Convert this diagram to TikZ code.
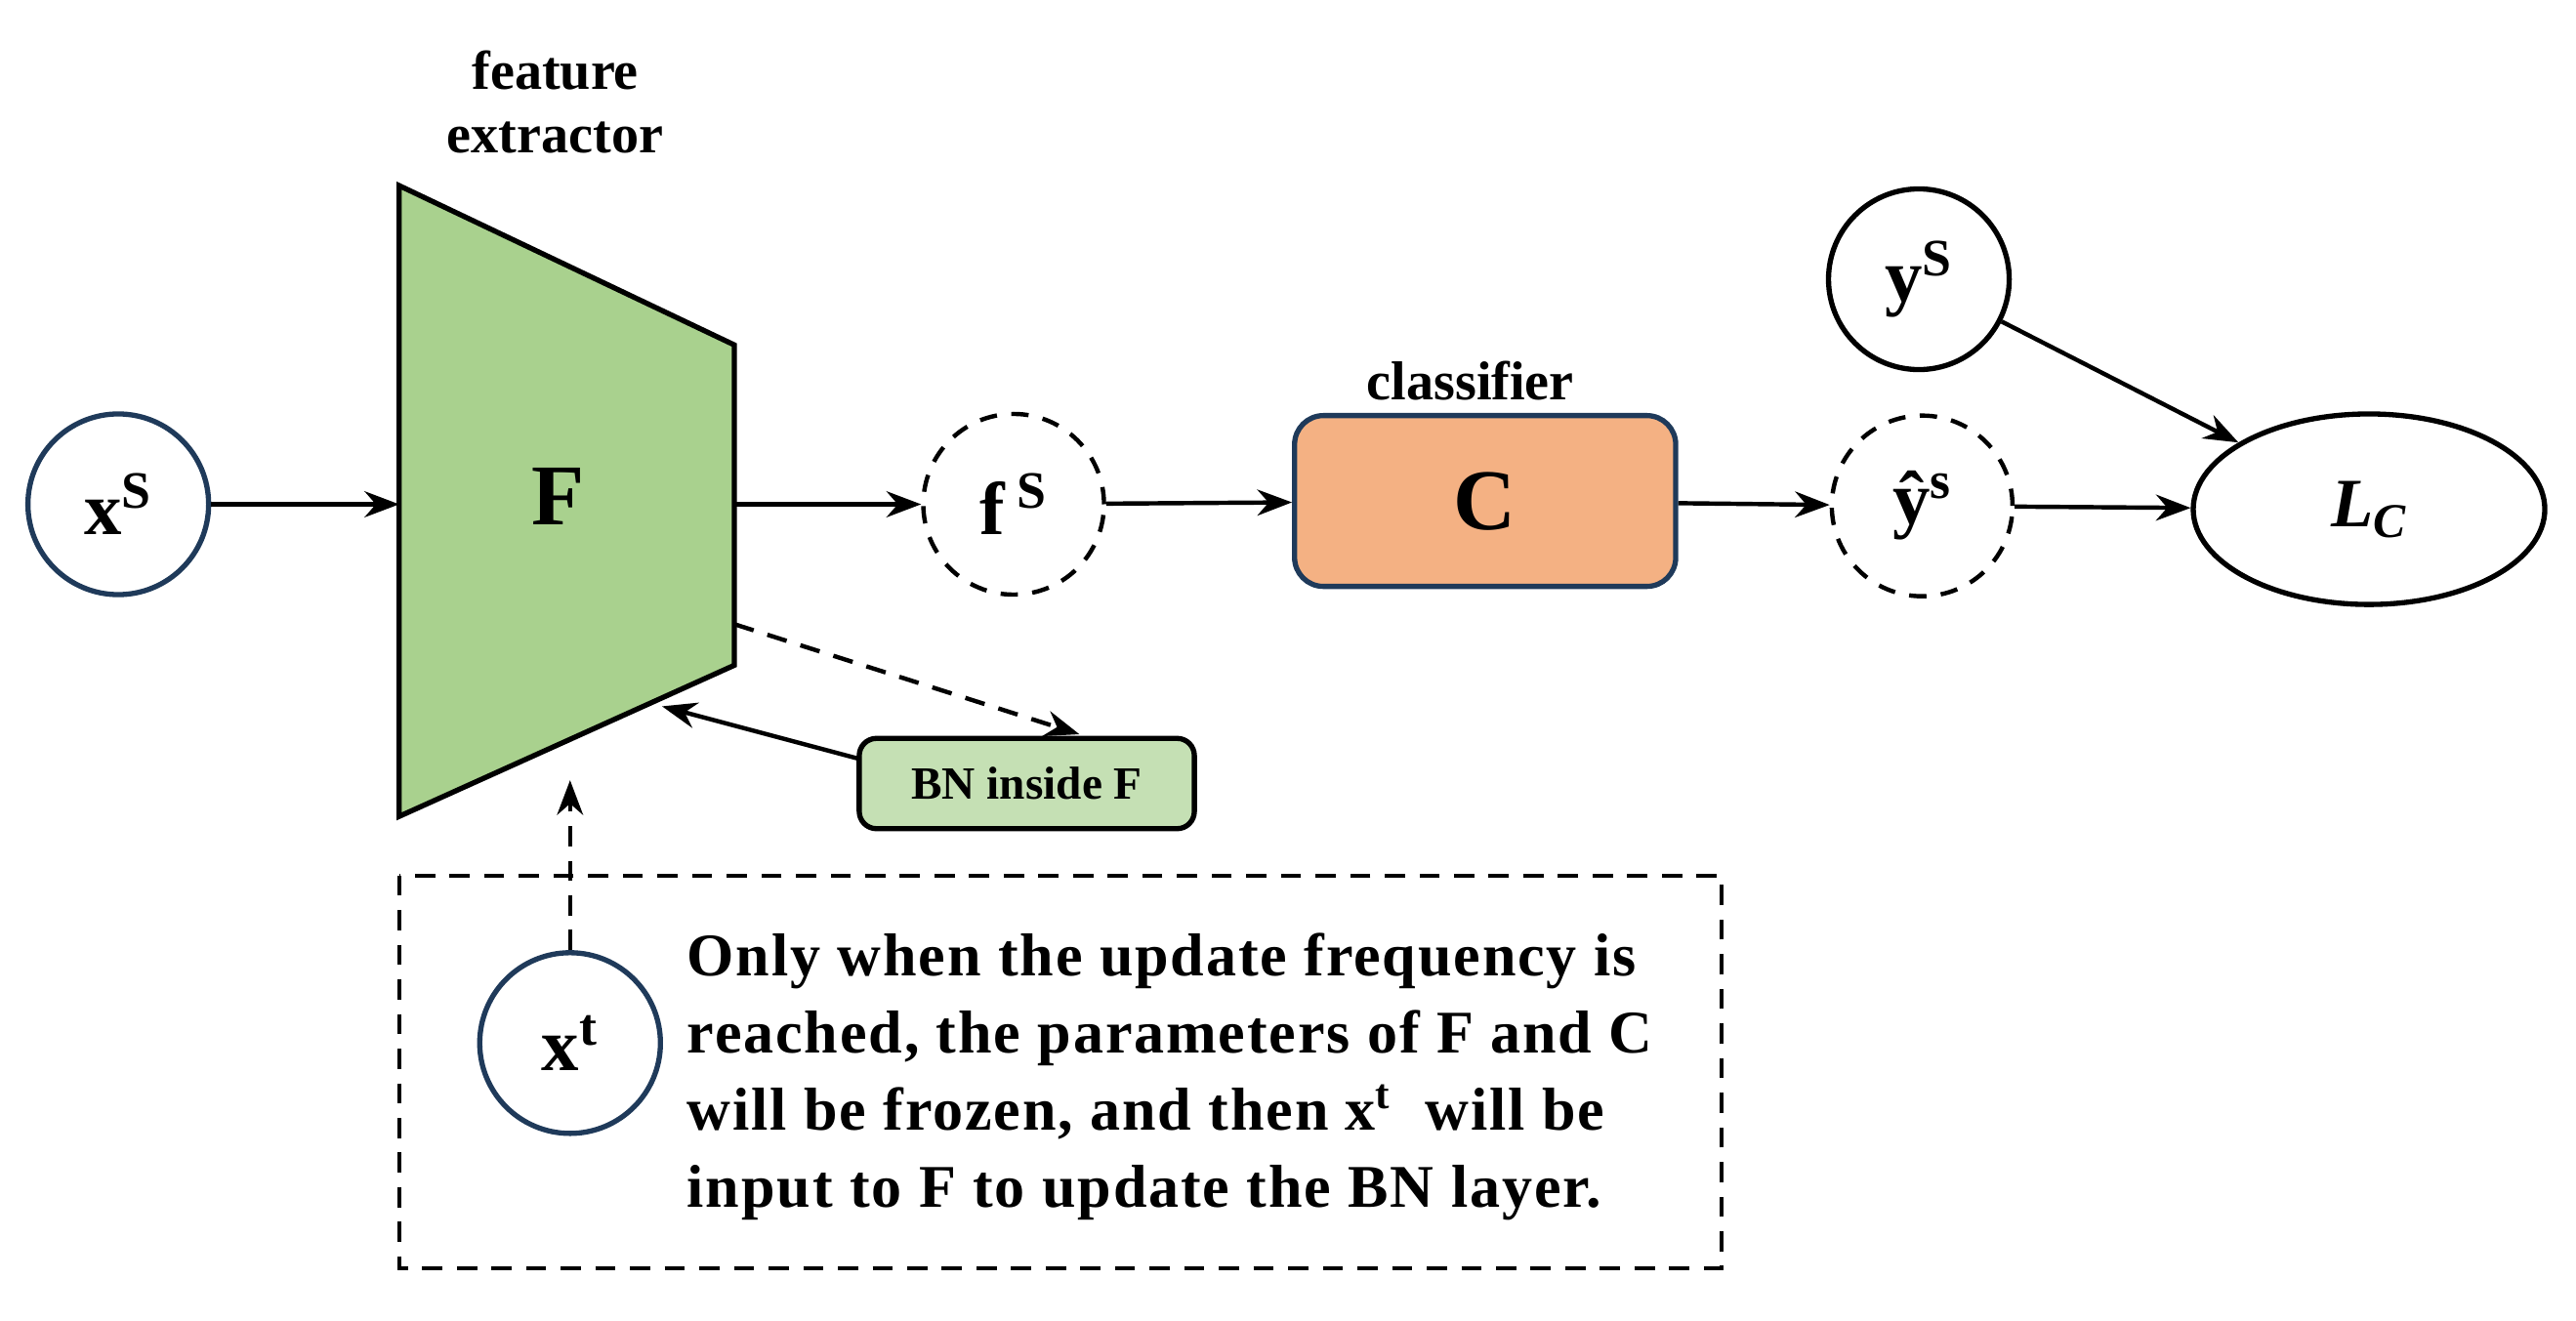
\documentclass[tikz,border=0pt]{standalone}
\usepackage{fontspec}
\setmainfont{Liberation Serif}
\usetikzlibrary{arrows.meta,shapes.geometric}
\definecolor{navy}{HTML}{1F3A5A}
\definecolor{fgreen}{HTML}{A9D18E}
\definecolor{lgreen}{HTML}{C5E0B4}
\definecolor{corange}{HTML}{F4B183}
\begin{document}
\begin{tikzpicture}[x=0.02cm,y=-0.02cm,
  arr/.style={-{Stealth[length=12pt,width=9pt]},line width=1.5pt},
  darr/.style={arr,dash pattern=on 7pt off 5pt},
  circ/.style={circle,draw=navy,line width=1.8pt,minimum size=110*0.02cm,inner sep=0pt,font=\bfseries\fontsize{26}{28}\selectfont},
  dcirc/.style={circle,draw,line width=1.5pt,dash pattern=on 6pt off 5pt,minimum size=110*0.02cm,inner sep=0pt,font=\bfseries\fontsize{26}{28}\selectfont},
  lab/.style={font=\bfseries\fontsize{19}{22}\selectfont,align=center},
  every node/.style={text=black}]
\useasboundingbox (0,0) rectangle (1568,804);
% trapezoid
\draw[fill=fgreen,line width=1.8pt] (243,113) -- (447,210) -- (447,405) -- (243,497) -- cycle;
\node[font=\bfseries\fontsize{30}{32}\selectfont] (F) at (340,302) {F};
\coordinate (Fin) at (243,307);
\coordinate (Fout) at (447,307);
\coordinate (Fdash) at (447,380);
\coordinate (Fbn) at (403,430);
\coordinate (Fbot) at (347,475);
\coordinate (bnT) at (657,447);
\coordinate (bnW) at (523,462);
\node[lab] (fe) at (338,62) {feature\\extractor};
\node[circ] (xs) at (72,307) {x\textsuperscript{S}};
\node[dcirc] (fs) at (617,307) {f\,\textsuperscript{S}};
\node[draw=navy,fill=corange,line width=1.8pt,rounded corners=10pt,minimum width=232*0.02cm,minimum height=104*0.02cm,font=\bfseries\fontsize{30}{32}\selectfont] (C) at (904,305) {C};
\node[lab,anchor=south] (cl) at (895,250) {classifier};
\node[dcirc] (yh) at (1170,308) {ŷ\textsuperscript{s}};
\node[circ,draw=black] (ys) at (1168,170) {y\textsuperscript{S}};
\node[ellipse,draw,line width=1.8pt,minimum width=214*0.02cm,minimum height=116*0.02cm,font=\bfseries\itshape\fontsize{24}{26}\selectfont] (L) at (1442,310) {L\textsubscript{C}};
\node[draw,fill=lgreen,line width=1.8pt,rounded corners=6pt,minimum width=204*0.02cm,minimum height=55*0.02cm,font=\bfseries\fontsize{16}{18}\selectfont] (bn) at (625,477) {BN inside F};
\draw[line width=1.5pt,dash pattern=on 7pt off 5pt] (243,533) rectangle (1048,772);
\node[circ] (xt) at (347,635) {x\textsuperscript{t}};
\node[anchor=north west,align=left,font=\bfseries\fontsize{21}{26.7}\selectfont\addfontfeature{LetterSpace=3},inner sep=0pt] (txt) at (418,568) {Only when the update frequency is\\reached, the parameters of F and C\\will be frozen, and then x\textsuperscript{t}\ \ will be\\input to F to update the BN layer.};
% connectors
\draw[arr] (xs) -- (Fin);
\draw[arr] (Fout) -- (fs);
\draw[arr] (fs) -- (C);
\draw[arr] (C) -- (yh);
\draw[arr] (yh) -- (L);
\draw[arr] (ys) -- (L);
\draw[darr] (Fdash) -- (bnT);
\draw[arr] (bnW) -- (Fbn);
\draw[darr] (xt) -- (Fbot);
\end{tikzpicture}
\end{document}
